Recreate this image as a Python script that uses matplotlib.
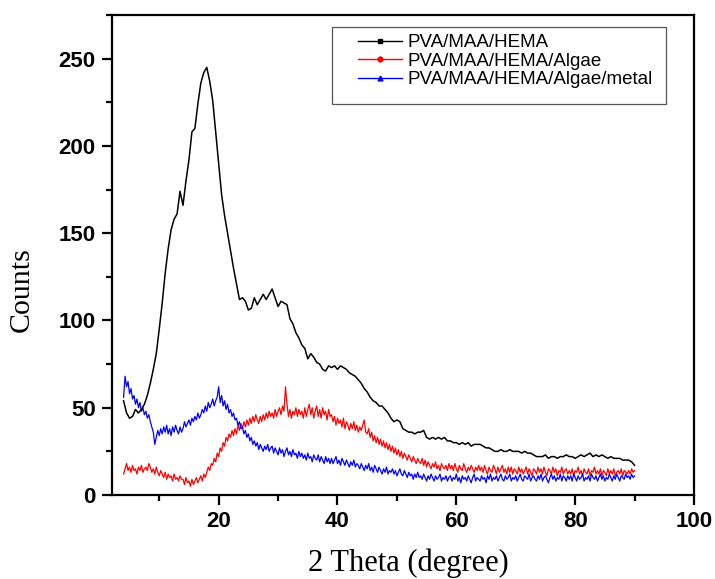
import numpy as np
import matplotlib
matplotlib.use("Agg")
import matplotlib.pyplot as plt
from matplotlib.lines import Line2D
from matplotlib.patches import Rectangle
from matplotlib.ticker import MultipleLocator

# 2-theta grids (degrees)
theta_coarse = np.arange(4.0, 90.001, 0.5)    # black curve
theta_fine = np.arange(4.0, 90.001, 0.25)     # red and blue curves

counts_pva_maa_hema = [
    54, 47, 44, 45, 49, 47, 49, 52, 57, 64,
    72, 81, 95, 110, 127, 141, 152, 158, 161, 174,
    166, 180, 192, 208, 210, 224, 236, 242, 245, 237,
    226, 208, 190, 172, 160, 150, 140, 130, 121, 112,
    113, 111, 106, 107, 113, 109, 112, 115, 112, 115,
    118, 113, 108, 111, 110, 109, 101, 98, 93, 90,
    86, 84, 78, 81, 79, 76, 75, 72, 71, 74,
    73, 74, 72, 74, 73, 72, 70, 69, 68, 66,
    64, 61, 59, 56, 54, 53, 51, 51, 49, 47,
    44, 42, 43, 42, 38, 37, 36, 36, 35, 36,
    36, 37, 33, 32, 33, 32, 33, 32, 33, 31,
    31, 30, 30, 29, 30, 29, 30, 28, 29, 29,
    29, 28, 27, 27, 26, 25, 25, 26, 25, 25,
    26, 25, 25, 25, 24, 25, 24, 24, 23, 22,
    22, 22, 23, 21, 22, 22, 21, 22, 22, 23,
    22, 22, 21, 22, 23, 22, 23, 24, 22, 23,
    22, 23, 22, 21, 22, 21, 21, 21, 20, 20,
    20, 19, 17,
]

counts_algae = [
    12, 15, 18, 14, 16, 13, 17, 14, 15, 12, 16, 14, 17, 13, 15, 16, 14, 18, 16, 13,
    15, 12, 16, 13, 11, 14, 12, 10, 13, 9, 12, 10, 11, 8, 12, 9, 10, 8, 11, 9,
    9, 6, 10, 7, 8, 5, 9, 6, 8, 10, 7, 9, 11, 8, 12, 10, 13, 16, 14, 18,
    17, 21, 19, 24, 22, 27, 25, 30, 28, 33, 31, 35, 33, 37, 34, 38, 35, 40, 37, 41,
    38, 42, 39, 43, 40, 44, 41, 45, 42, 46, 43, 41, 45, 42, 46, 43, 47, 44, 48, 45,
    47, 44, 49, 45, 48, 50, 46, 51, 48, 62, 52, 45, 49, 44, 48, 46, 50, 45, 49, 46,
    48, 44, 50, 45, 49, 52, 46, 50, 44, 48, 51, 45, 49, 44, 50, 46, 48, 43, 49, 45,
    46, 42, 45, 40, 44, 41, 43, 39, 44, 38, 42, 40, 37, 41, 38, 42, 37, 40, 36, 39,
    37, 40, 43, 36, 35, 38, 33, 36, 31, 34, 30, 33, 29, 32, 28, 31, 27, 30, 26, 29,
    25, 28, 24, 27, 23, 26, 22, 25, 21, 24, 22, 20, 23, 21, 19, 22, 20, 18, 21, 19,
    18, 21, 17, 20, 16, 19, 17, 15, 18, 16, 19, 15, 17, 14, 18, 16, 15, 17, 14, 18,
    15, 17, 14, 18, 15, 13, 17, 15, 14, 18, 15, 13, 16, 14, 17, 15, 13, 16, 14, 17,
    14, 16, 13, 17, 14, 12, 16, 14, 13, 17, 15, 12, 16, 13, 15, 17, 13, 15, 12, 16,
    13, 16, 12, 15, 14, 12, 16, 13, 15, 12, 14, 16, 12, 15, 13, 11, 15, 14, 12, 16,
    13, 15, 12, 16, 13, 11, 15, 14, 12, 16, 13, 15, 11, 14, 13, 16, 12, 14, 15, 12,
    14, 12, 15, 11, 14, 13, 16, 12, 14, 11, 15, 13, 12, 15, 11, 14, 13, 16, 12, 14,
    12, 15, 11, 14, 13, 11, 15, 12, 14, 12, 15, 11, 13, 14, 12, 15, 11, 14, 13, 12,
    14, 12, 15, 13, 14,
]

counts_algae_metal = [
    56, 68, 62, 65, 58, 61, 55, 57, 52, 55, 50, 53, 48, 50, 46, 48, 44, 46, 42, 39,
    36, 29, 33, 37, 34, 38, 35, 39, 36, 40, 35, 38, 34, 39, 36, 40, 37, 35, 39, 36,
    38, 42, 39, 41, 43, 40, 44, 42, 45, 43, 47, 44, 46, 49, 47, 51, 48, 53, 50, 52,
    55, 51, 54, 56, 62, 53, 57, 51, 54, 49, 52, 47, 49, 45, 47, 43, 44, 40, 42, 38,
    39, 35, 37, 33, 35, 31, 33, 29, 31, 28, 30, 26, 29, 27, 25, 28, 26, 29, 25, 27,
    28, 24, 27, 25, 23, 27, 24, 26, 22, 25, 27, 23, 25, 22, 26, 23, 24, 21, 25, 22,
    24, 21, 23, 20, 24, 21, 22, 19, 23, 21, 20, 23, 19, 22, 20, 18, 22, 19, 21, 18,
    21, 18, 20, 22, 18, 20, 17, 21, 19, 17, 20, 18, 16, 19, 17, 20, 16, 18, 17, 15,
    18, 16, 14, 17, 15, 18, 14, 16, 13, 17, 15, 13, 16, 14, 12, 15, 13, 16, 12, 14,
    13, 15, 12, 14, 11, 13, 15, 12, 11, 14, 12, 10, 13, 11, 12, 9, 12, 10, 13, 10,
    11, 9, 12, 10, 8, 11, 9, 12, 10, 8, 11, 9, 10, 12, 8, 10, 9, 11, 8, 10,
    11, 8, 10, 9, 12, 8, 10, 7, 11, 9, 10, 8, 11, 9, 7, 10, 12, 8, 10, 9,
    8, 11, 9, 10, 7, 11, 9, 12, 8, 10, 9, 11, 8, 10, 12, 9, 8, 11, 9, 10,
    12, 8, 10, 9, 11, 8, 10, 12, 9, 8, 11, 10, 9, 12, 8, 10, 11, 9, 8, 11,
    9, 12, 8, 10, 11, 9, 7, 10, 12, 9, 11, 8, 10, 9, 12, 8, 11, 10, 8, 11,
    9, 11, 8, 12, 10, 8, 11, 9, 10, 12, 8, 10, 9, 11, 8, 12, 10, 9, 11, 8,
    10, 12, 9, 11, 8, 10, 9, 12, 10, 8, 11, 9, 12, 10, 8, 11, 10, 9, 12, 10,
    11, 9, 12, 10, 11,
]

labels = ["PVA/MAA/HEMA", "PVA/MAA/HEMA/Algae", "PVA/MAA/HEMA/Algae/metal"]
colors = ["black", "red", "blue"]
markers = ["s", "o", "^"]
x_ticks = [20, 40, 60, 80, 100]
y_ticks = [0, 50, 100, 150, 200, 250]

W, H = 715, 579
fig = plt.figure(figsize=(W / 100, H / 100), dpi=100)
L, R, T, B = 111.7, 694, 15, 495
ax = fig.add_axes([L / W, 1 - B / H, (R - L) / W, (B - T) / H])

ax.plot(theta_coarse[:len(counts_pva_maa_hema)], counts_pva_maa_hema,
        color=colors[0], lw=1.1, zorder=3)
ax.plot(theta_fine[:len(counts_algae)], counts_algae, color=colors[1], lw=0.9, zorder=2)
ax.plot(theta_fine[:len(counts_algae_metal)], counts_algae_metal,
        color=colors[2], lw=0.9, zorder=2.5)

ax.set_xlim(2, 100)
ax.set_ylim(0, 275)
ax.set_xticks(x_ticks)
ax.set_yticks(y_ticks)
ax.xaxis.set_minor_locator(MultipleLocator(10))
ax.yaxis.set_minor_locator(MultipleLocator(25))
for s in ax.spines.values():
    s.set_linewidth(1.6)
ax.tick_params(which="major", direction="out", length=7.5, width=1.6, pad=4)
ax.tick_params(which="minor", direction="out", length=4, width=1.6)
for lab in ax.get_xticklabels() + ax.get_yticklabels():
    lab.set_fontfamily("Liberation Sans")
    lab.set_fontweight("bold")
    lab.set_fontsize(16)

fig.text(21.5 / W, 1 - 290 / H, "Counts", rotation=90, ha="center", va="center",
         family="Liberation Serif", fontsize=21.5)
fig.text(408 / W, 1 - 563 / H, "2 Theta (degree)", ha="center", va="center",
         family="Liberation Serif", fontsize=22)

# legend frame
ax.add_patch(Rectangle(((332 - L) / (R - L), (B - 104) / (B - T)),
                       (666 - 332) / (R - L), (104 - 27) / (B - T),
                       transform=ax.transAxes, fill=True, facecolor="white",
                       edgecolor="#555555", lw=0.9, zorder=5))
handles = [Line2D([], [], color=c, lw=1.0, marker=m, markersize=3.5)
           for c, m in zip(colors, markers)]
leg = ax.legend(handles, labels, loc="upper left",
                bbox_to_anchor=((358 - L) / (R - L), (B - 34) / (B - T)),
                prop={"family": "Liberation Sans", "size": 13.5},
                frameon=False, borderpad=0,
                labelspacing=0.08, handlelength=2.35, handletextpad=0.27,
                borderaxespad=0)
leg.set_zorder(6)

fig.savefig("out.png", dpi=100)
